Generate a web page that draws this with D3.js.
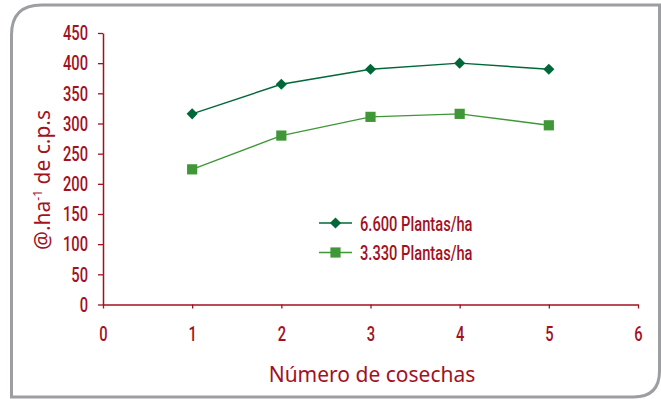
<!DOCTYPE html>
<html>
<head>
<meta charset="utf-8">
<script src="https://cdn.jsdelivr.net/npm/d3@7/dist/d3.min.js"></script>
<style>
  html, body { margin: 0; padding: 0; background: #fff; }
  svg { display: block; }
</style>
</head>
<body>
<svg id="chart" width="661" height="399"></svg>
<script>
// Yield per harvest for two planting densities
const harvests = [1, 2, 3, 4, 5];
const dens6600 = [316, 365, 390, 400, 390];
const dens3330 = [224, 280, 311, 316, 297];
const seriesNames = ["6.600 Plantas/ha", "3.330 Plantas/ha"];
const xTicks = [0, 1, 2, 3, 4, 5, 6];
const yTicks = [0, 50, 100, 150, 200, 250, 300, 350, 400, 450];

const red = "#a3111f";
const darkGreen = "#006838";
const lightGreen = "#3f9737";
const narrowFont = "Roboto, 'Noto Sans', sans-serif";
const narrowSize = "21px";
const narrowWeight = 500;
const squeeze = 0.7;   // horizontal squeeze for the condensed lettering

// Rhombus marker (square turned 45°)
const rhombus = {
  draw(context, size) {
    const r = Math.sqrt(size / 2);
    context.moveTo(0, -r);
    context.lineTo(r, 0);
    context.lineTo(0, r);
    context.lineTo(-r, 0);
    context.closePath();
  }
};

const svg = d3.select("#chart");

// Frame: rounded top-left and bottom-right corners
const L = 11.5, T = 5, R = 659.5, B = 397, r1 = 30, r2 = 26;
svg.append("path")
  .attr("d", `M${L},${B} L${L},${T + r1} Q${L},${T} ${L + r1},${T} L${R},${T} L${R},${B - r2} Q${R},${B} ${R - r2},${B} Z`)
  .attr("fill", "#fff")
  .attr("stroke", "#9d9ea2")
  .attr("stroke-width", 3);

const x = d3.scaleLinear().domain([0, 6]).range([103, 638]);
const y = d3.scaleLinear().domain([0, 450]).range([304.5, 33]);

// Y axis
const yAxis = svg.append("g")
  .attr("transform", `translate(${x(0)},0)`)
  .call(d3.axisLeft(y).tickValues(yTicks).tickSize(5).tickSizeOuter(0).tickPadding(10));
yAxis.select(".domain").attr("stroke", red).attr("stroke-width", 1.5);
yAxis.selectAll(".tick line").attr("stroke", red).attr("stroke-width", 1.3);
yAxis.selectAll(".tick text")
  .attr("fill", red)
  .attr("x", -15 / squeeze)
  .attr("transform", `scale(${squeeze},1)`)
  .style("font-family", narrowFont)
  .style("font-weight", narrowWeight)
  .style("font-size", narrowSize);

// X axis
const xAxis = svg.append("g")
  .attr("transform", `translate(0,${y(0)})`)
  .call(d3.axisBottom(x).tickValues(xTicks).tickSize(4).tickSizeOuter(0).tickPadding(18).tickFormat(d3.format("d")));
xAxis.select(".domain").attr("stroke", red).attr("stroke-width", 1.5);
xAxis.selectAll(".tick line").attr("stroke", red).attr("stroke-width", 1.3);
xAxis.selectAll(".tick text")
  .attr("fill", red)
  .attr("transform", `scale(${squeeze},1)`)
  .style("font-family", narrowFont)
  .style("font-weight", narrowWeight)
  .style("font-size", narrowSize);

// Axis titles
svg.append("text")
  .attr("x", 372).attr("y", 382)
  .attr("text-anchor", "middle")
  .attr("fill", red)
  .style("font-family", "'Noto Sans', sans-serif")
  .style("font-size", "21px")
  .text("Número de cosechas");

const yTitle = svg.append("text")
  .attr("transform", "translate(50,180) rotate(-90)")
  .attr("text-anchor", "middle")
  .attr("fill", red)
  .style("font-family", "'Noto Sans', sans-serif")
  .style("font-size", "21px");
yTitle.append("tspan").text("@.ha");
yTitle.append("tspan").attr("dy", -8).style("font-size", "12px").text("-1");
yTitle.append("tspan").attr("dy", 8).text(" de c.p.s");

// Series
const series = [
  { name: seriesNames[0], values: dens6600, color: darkGreen, shape: rhombus, size: 62 },
  { name: seriesNames[1], values: dens3330, color: lightGreen, shape: d3.symbolSquare, size: 104 }
];

const line = d3.line().x(d => x(d[0])).y(d => y(d[1]));

series.forEach(s => {
  const pts = harvests.map((h, i) => [h, s.values[i]]);
  svg.append("path")
    .attr("d", line(pts))
    .attr("fill", "none")
    .attr("stroke", s.color)
    .attr("stroke-width", 1.4);
  svg.selectAll(null)
    .data(pts)
    .enter().append("path")
    .attr("d", d3.symbol().type(s.shape).size(s.size))
    .attr("transform", d => `translate(${x(d[0])},${y(d[1])})`)
    .attr("fill", s.color);
});

// Legend
const legend = svg.append("g");
series.forEach((s, i) => {
  const ly = 223 + i * 29.5;
  legend.append("line")
    .attr("x1", 319).attr("x2", 352).attr("y1", ly).attr("y2", ly)
    .attr("stroke", s.color).attr("stroke-width", 1.4);
  legend.append("path")
    .attr("d", d3.symbol().type(s.shape).size(s.size))
    .attr("transform", `translate(335.5,${ly})`)
    .attr("fill", s.color);
  legend.append("text")
    .attr("transform", `translate(360,${ly + 7.5}) scale(${squeeze},1)`)
    .attr("fill", red)
    .style("font-family", narrowFont)
    .style("font-weight", narrowWeight)
    .style("font-size", narrowSize)
    .text(s.name);
});
</script>
</body>
</html>
